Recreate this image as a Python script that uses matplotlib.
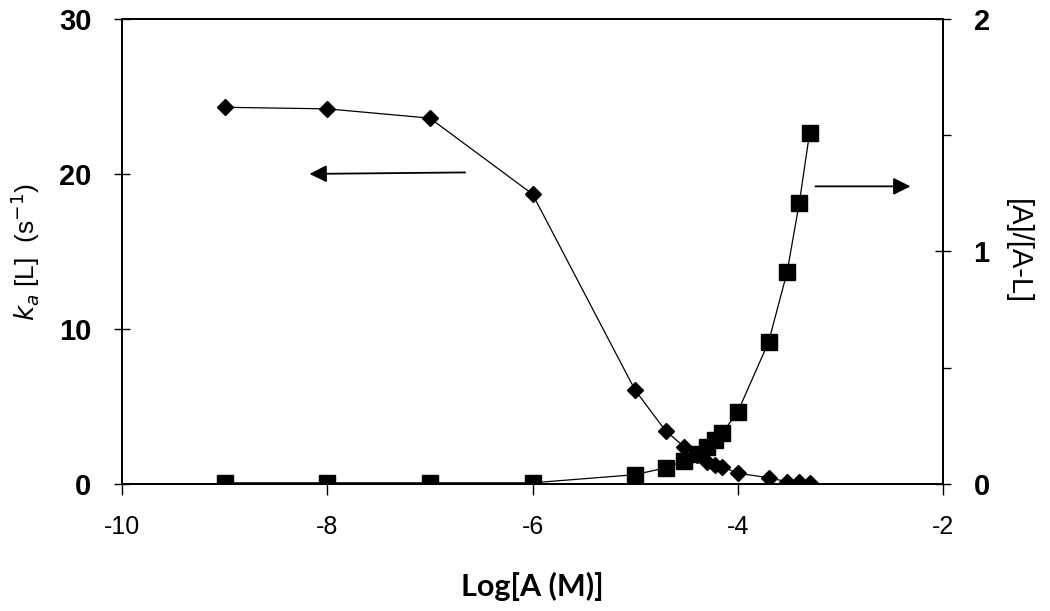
import matplotlib
matplotlib.use("Agg")
import matplotlib.pyplot as plt

# данные
log_a = [-9, -8, -7, -6, -5, -4.7, -4.52, -4.4, -4.3, -4.22, -4.15, -4.0,
         -3.7, -3.52, -3.4, -3.3]
ka_l = [24.3, 24.2, 23.6, 18.7, 6.05, 3.4, 2.4, 1.9, 1.4, 1.2, 1.1, 0.7,
        0.4, 0.15, 0.1, 0.05]
ratio = [0.005, 0.005, 0.005, 0.005, 0.04, 0.07, 0.1, 0.13, 0.16, 0.19,
         0.22, 0.31, 0.61, 0.91, 1.21, 1.51]

x_ticks = [-10, -8, -6, -4, -2]
left_ticks = [0, 10, 20, 30]
right_ticks = [0, 1, 2]

fig = plt.figure(figsize=(10.5, 6.11), dpi=100)
ax = fig.add_axes([0.1162, 0.2079, 0.7819, 0.7611])
ax2 = ax.twinx()

ax.plot(log_a, ka_l, color="black", lw=0.9, marker="D", ms=8, zorder=3)
ax2.plot(log_a, ratio, color="black", lw=0.9, marker="s", ms=11, zorder=3)

ax.set_xlim(-10, -2)
ax.set_ylim(0, 30)
ax2.set_ylim(0, 2)

ax.set_xticks(x_ticks)
ax.set_xticklabels([str(t) for t in x_ticks], fontsize=18, family="Liberation Sans")
ax.set_yticks(left_ticks)
ax.set_yticklabels([str(t) for t in left_ticks], fontsize=21, fontweight="bold",
                   family="Liberation Sans")
ax2.set_yticks(right_ticks)
ax2.set_yticklabels([str(t) for t in right_ticks], fontsize=21, fontweight="bold",
                    family="Liberation Sans")
ax2.set_yticks([0.5, 1.5], minor=True)

ax.tick_params(axis="x", direction="out", length=8, width=1, pad=14)
ax.tick_params(axis="y", direction="inout", length=12, width=1, pad=16)
ax2.tick_params(axis="y", which="major", direction="inout", length=12, width=1, pad=16)
ax2.tick_params(axis="y", which="minor", direction="out", length=6, width=1)

for a in (ax, ax2):
    for s in a.spines.values():
        s.set_linewidth(1.3)

ax.set_xlabel("Log[A (M)]", fontsize=22, fontweight="bold", family="Lato", labelpad=24)
ax.set_ylabel(r"$k_a$ [L]  (s$^{-1}$)", fontsize=19, family="Liberation Sans",
              labelpad=12)
ax2.set_ylabel("[A]/[A-L]", fontsize=21, family="Liberation Sans", rotation=270,
               labelpad=30)

# стрелки-указатели осей
ax.annotate("", xy=(-8.2, 20), xytext=(-6.63, 20.1),
            arrowprops=dict(arrowstyle="-|>", color="black", lw=1.3,
                            mutation_scale=26))
ax.annotate("", xy=(-2.29, 19.2), xytext=(-3.27, 19.2),
            arrowprops=dict(arrowstyle="-|>", color="black", lw=1.3,
                            mutation_scale=26))

fig.savefig("out.png", dpi=100)
